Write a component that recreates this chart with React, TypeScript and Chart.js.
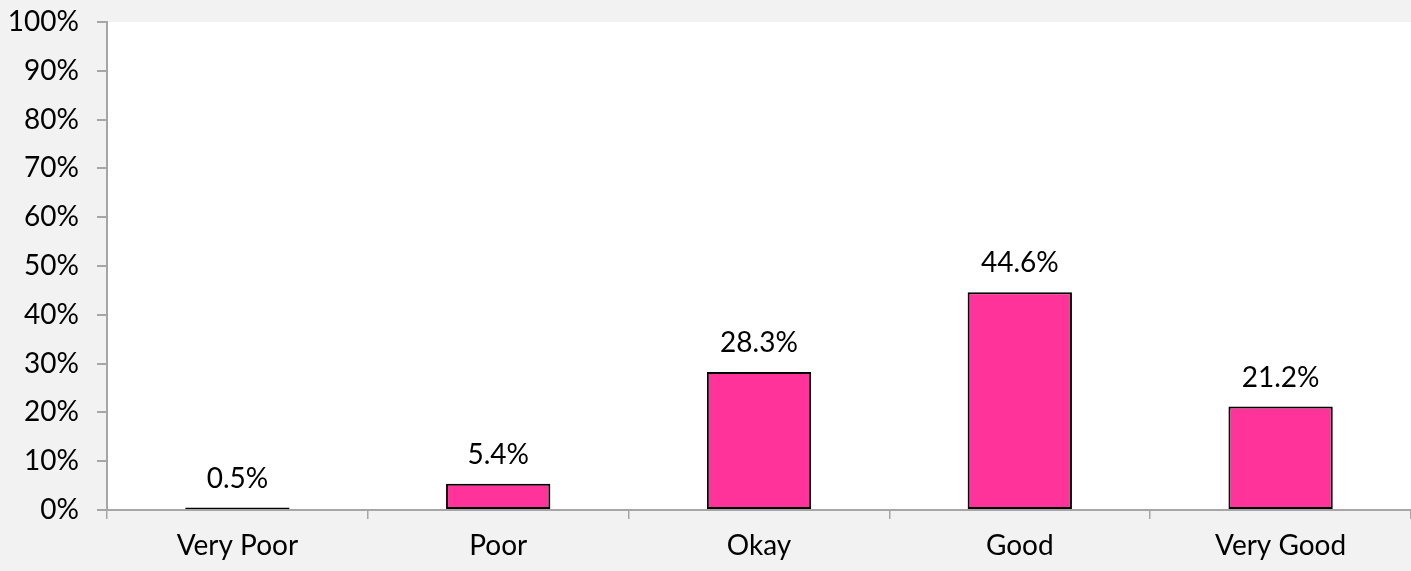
import React, { useEffect, useRef } from "react";
import { Chart, registerables } from "chart.js";

Chart.register(...registerables);

const categories: string[] = ["Very Poor", "Poor", "Okay", "Good", "Very Good"];
const values: number[] = [0.5, 5.4, 28.3, 44.6, 21.2];
const yTicks: number[] = [0, 10, 20, 30, 40, 50, 60, 70, 80, 90, 100];

const FONT = "Lato, 'Open Sans', sans-serif";
const FONT_SIZE = 28;
const AXIS_COLOR = "#a6a6a6";

const bgPlugin = {
  id: "bgPlugin",
  beforeDraw(chart: any) {
    const { ctx, chartArea, width, height } = chart;
    ctx.save();
    ctx.fillStyle = "#f2f2f2";
    ctx.fillRect(0, 0, width, height);
    ctx.fillStyle = "#ffffff";
    ctx.fillRect(chartArea.left, chartArea.top, chartArea.right - chartArea.left, chartArea.bottom - chartArea.top);
    ctx.restore();
  },
};

const labelPlugin = {
  id: "labelPlugin",
  afterDatasetsDraw(chart: any) {
    const { ctx } = chart;
    const meta = chart.getDatasetMeta(0);
    ctx.save();
    ctx.fillStyle = "#000000";
    ctx.font = `${FONT_SIZE}px ${FONT}`;
    ctx.textAlign = "center";
    ctx.textBaseline = "middle";
    meta.data.forEach((bar: any, i: number) => {
      ctx.fillText(values[i].toFixed(1) + "%", bar.x, bar.y - 29);
    });
    ctx.restore();
  },
};

export default function App() {
  const ref = useRef<HTMLCanvasElement | null>(null);
  useEffect(() => {
    document.body.style.margin = "0";
    if (!ref.current) return;
    const chart = new Chart(ref.current, {
      type: "bar",
      data: {
        labels: categories,
        datasets: [
          {
            data: values,
            backgroundColor: "#ff3399",
            borderColor: "#000000",
            borderWidth: 2,
            borderSkipped: false,
            categoryPercentage: 1,
            barPercentage: 0.4,
          },
        ],
      },
      options: {
        animation: false,
        responsive: true,
        maintainAspectRatio: false,
        layout: { padding: { top: 22, right: 0, left: 0, bottom: 0 } },
        plugins: { legend: { display: false }, tooltip: { enabled: false } },
        scales: {
          x: {
            offset: true,
            grid: {
              offset: true,
              drawOnChartArea: false,
              drawTicks: true,
              tickLength: 9,
              color: AXIS_COLOR,
              lineWidth: 1.5,
            },
            border: { color: AXIS_COLOR, width: 2 },
            ticks: {
              color: "#000000",
              font: { family: FONT, size: FONT_SIZE },
              padding: 10,
              maxRotation: 0,
            },
            afterFit(scale: any) {
              scale.height = 61;
              scale.paddingLeft = 0;
              scale.paddingRight = 0;
            },
          },
          y: {
            min: 0,
            max: 100,
            afterBuildTicks(scale: any) {
              scale.ticks = yTicks.map((v) => ({ value: v }));
            },
            grid: {
              drawOnChartArea: false,
              drawTicks: true,
              tickLength: 10,
              color: AXIS_COLOR,
              lineWidth: 2,
            },
            border: { color: AXIS_COLOR, width: 2 },
            ticks: {
              color: "#000000",
              font: { family: FONT, size: FONT_SIZE },
              padding: 18,
              callback: (v: any) => v + "%",
            },
            afterFit(scale: any) {
              scale.width = 107;
              scale.paddingTop = 0;
              scale.paddingBottom = 0;
            },
          },
        },
      },
      plugins: [bgPlugin, labelPlugin],
    });
    return () => chart.destroy();
  }, []);
  return (
    <div style={{ width: 1411, height: 571, position: "relative" }}>
      <canvas ref={ref} />
    </div>
  );
}
